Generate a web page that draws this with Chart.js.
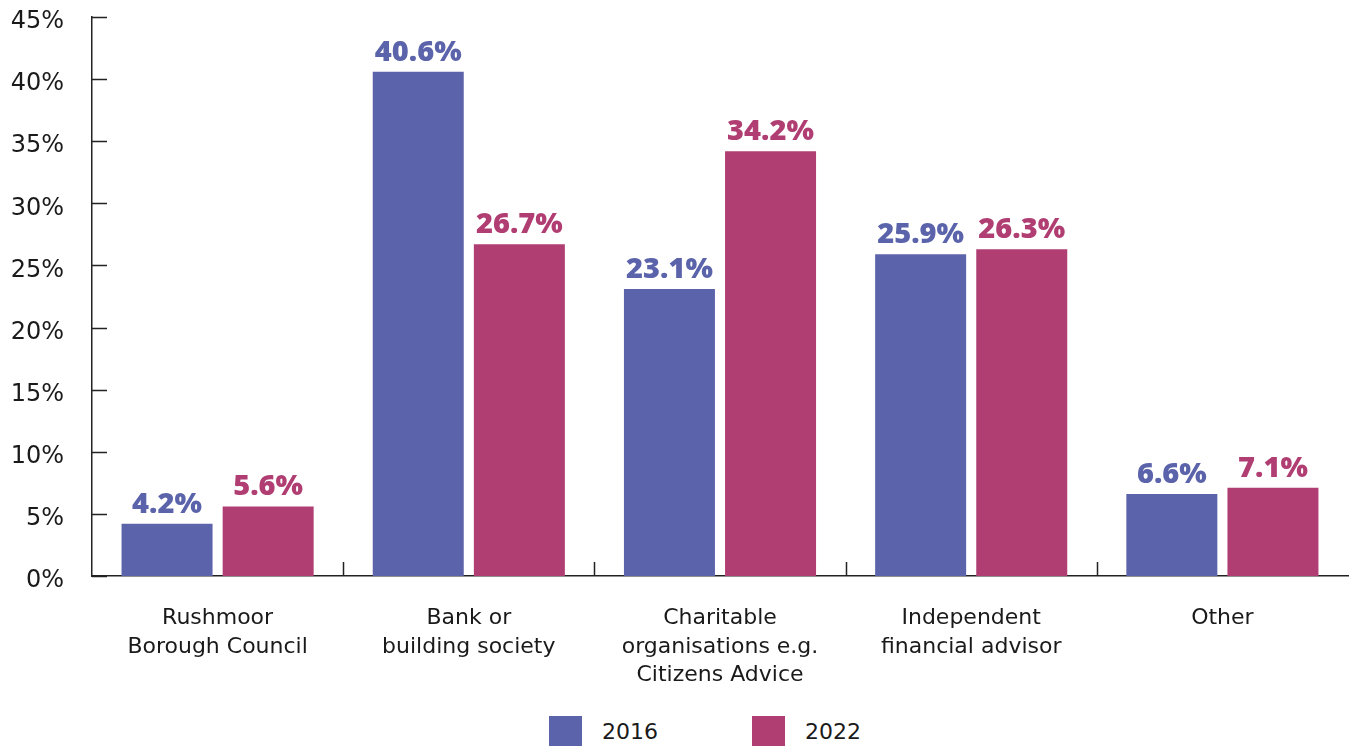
<!DOCTYPE html>
<html lang="en">
<head>
    <meta charset="UTF-8">
    <title>Sources of advice</title>
    <script src="https://cdn.jsdelivr.net/npm/chart.js@4.4.0/dist/chart.umd.min.js"></script>
    <style>
        body {
            margin: 0;
            background: #fff;
            font-family: "DejaVu Sans", sans-serif;
        }
        .wrap {
            position: relative;
            width: 1355px;
            height: 747px;
        }
        .chart-box {
            position: absolute;
            left: 0;
            top: 0;
            width: 1355px;
            height: 700px;
        }
        .legend {
            position: absolute;
            top: 716px;
            left: 549px;
            display: flex;
            align-items: center;
            font-size: 22px;
            color: #1a1a1a;
        }
        .legend .sw {
            display: inline-block;
            width: 33px;
            height: 30px;
            margin-right: 20px;
        }
        .legend .item {
            display: flex;
            align-items: center;
            margin-right: 94px;
        }
    </style>
</head>
<body>
<div class="wrap">
    <div class="chart-box"><canvas id="chart"></canvas></div>
    <div class="legend" id="legend"></div>
</div>
<script>
    const categories = [
        ['Rushmoor', 'Borough Council'],
        ['Bank or', 'building society'],
        ['Charitable', 'organisations e.g.', 'Citizens Advice'],
        ['Independent', 'financial advisor'],
        ['Other']
    ];
    const series2016 = [4.2, 40.6, 23.1, 25.9, 6.6];
    const series2022 = [5.6, 26.7, 34.2, 26.3, 7.1];
    const seriesNames = ['2016', '2022'];
    const colours = ['#5b63aa', '#b03e72'];

    // labels drawn above each bar
    const valueLabels = {
        id: 'valueLabels',
        afterDatasetsDraw(chart) {
            const ctx = chart.ctx;
            ctx.save();
            ctx.font = '800 29px "Open Sans"';
            ctx.textAlign = 'center';
            ctx.textBaseline = 'alphabetic';
            chart.data.datasets.forEach((ds, i) => {
                chart.getDatasetMeta(i).data.forEach((bar, j) => {
                    ctx.fillStyle = ds.backgroundColor;
                    ctx.fillText(ds.data[j].toFixed(1) + '%', bar.x, bar.y - 11);
                });
            });
            ctx.restore();
        }
    };

    // inward tick marks on both axes
    const innerTicks = {
        id: 'innerTicks',
        afterDraw(chart) {
            const ctx = chart.ctx;
            const x = chart.scales.x, y = chart.scales.y;
            const area = chart.chartArea;
            ctx.save();
            ctx.strokeStyle = '#222';
            ctx.lineWidth = 1.5;
            ctx.beginPath();
            y.ticks.forEach((t, i) => {
                const py = Math.round(y.getPixelForTick(i)) + 0.5;
                ctx.moveTo(area.left, py);
                ctx.lineTo(area.left + 15, py);
            });
            for (let i = 1; i < categories.length; i++) {
                const px = Math.round((x.getPixelForValue(i - 1) + x.getPixelForValue(i)) / 2) + 0.5;
                ctx.moveTo(px, area.bottom);
                ctx.lineTo(px, area.bottom - 14);
            }
            ctx.stroke();
            ctx.restore();
        }
    };

    new Chart(document.getElementById('chart'), {
        type: 'bar',
        data: {
            labels: categories,
            datasets: [
                { label: seriesNames[0], data: series2016, backgroundColor: colours[0] },
                { label: seriesNames[1], data: series2022, backgroundColor: colours[1] }
            ]
        },
        options: {
            responsive: true,
            maintainAspectRatio: false,
            animation: false,
            categoryPercentage: 0.805,
            barPercentage: 0.9,
            layout: { padding: { top: 17, right: 7 } },
            plugins: {
                legend: { display: false },
                tooltip: { enabled: false }
            },
            scales: {
                y: {
                    min: 0,
                    max: 45,
                    ticks: {
                        stepSize: 5,
                        color: '#1a1a1a',
                        font: { family: 'DejaVu Sans', size: 24 },
                        padding: 20,
                        labelOffset: 5,
                        callback: v => v + '%'
                    },
                    grid: { display: false },
                    border: { display: true, color: '#222', width: 1.5 },
                    afterFit: s => { s.width = 92; s.paddingTop = 0; s.paddingBottom = 0; }
                },
                x: {
                    ticks: {
                        color: '#1a1a1a',
                        font: { family: 'DejaVu Sans', size: 22, lineHeight: 1.3 },
                        padding: 20,
                        maxRotation: 0,
                        autoSkip: false
                    },
                    grid: { display: false },
                    border: { display: true, color: '#222', width: 1.5 },
                    afterFit: s => { s.height = 124; }
                }
            }
        },
        plugins: [valueLabels, innerTicks]
    });

    const legend = document.getElementById('legend');
    seriesNames.forEach((name, i) => {
        const item = document.createElement('span');
        item.className = 'item';
        item.innerHTML = '<span class="sw" style="background:' + colours[i] + '"></span>' + name;
        legend.appendChild(item);
    });
</script>
</body>
</html>
